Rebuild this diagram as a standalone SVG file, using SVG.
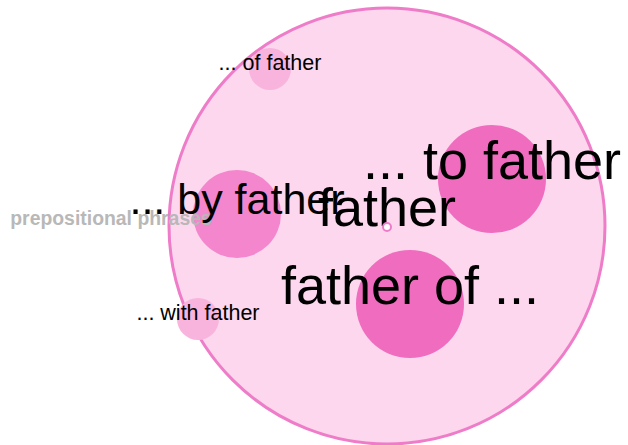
<svg xmlns="http://www.w3.org/2000/svg" width="628" height="445" viewBox="0 0 628 445">
<style>
.lbl{font-family:"Liberation Sans",Arial,sans-serif;fill:#000;text-anchor:middle}
.big{font-size:54px}
.mid{font-size:43px}
.sm{font-size:21.5px}
.cat{font-family:"Liberation Sans",Arial,sans-serif;font-weight:bold;font-size:19.4px;fill:#b8b8b8;text-anchor:middle}
</style>
<rect width="628" height="445" fill="#fff"/>
<g id="root">
<circle cx="387" cy="226" r="218" fill="#fcd7ee" stroke="#ef7cc8" stroke-width="3"/>
</g>
<g id="n-of">
<circle cx="270" cy="69" r="21" fill="#f9b4de"/>
<text class="lbl sm" x="270" y="70">... of father</text>
</g>
<g id="n-with">
<circle cx="198" cy="319" r="21" fill="#f9b4de"/>
<text class="lbl sm" x="198" y="320">... with father</text>
</g>
<g id="n-by">
<circle cx="237" cy="214" r="44" fill="#f386cc"/>
<text class="cat" x="111" y="225">prepositional phrases</text>
<text class="lbl mid" x="237" y="214">... by father</text>
</g>
<g id="n-to">
<circle cx="492" cy="179" r="54" fill="#f06cbf"/>
<text class="lbl big" x="492" y="179">... to father</text>
</g>
<g id="n-fatherof">
<circle cx="410" cy="304" r="54" fill="#f06cbf"/>
<text class="lbl big" x="410" y="304">father of ...</text>
</g>
<g id="n-center">
<text class="lbl big" x="387" y="226">father</text>
<circle cx="387" cy="227" r="4" fill="#fff" stroke="#ef7cc8" stroke-width="2"/>
</g>
<g id="connectors"/>
</svg>
